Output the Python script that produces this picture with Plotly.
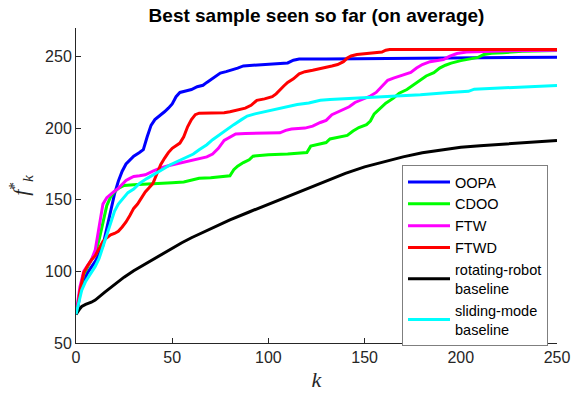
import plotly.graph_objects as go

# Best sample value f*_k found so far, averaged over runs, for each method
oopa_k = [0, 1, 2, 4, 6, 8, 10, 12, 14, 16, 18, 20, 22, 24, 26, 28, 30, 33, 35, 37, 39, 41,
          43, 46, 48, 50, 52, 54, 57, 60, 63, 66, 68, 70, 72, 75, 78, 81, 84, 87, 92, 96,
          100, 105, 110, 113, 116, 130, 150, 200, 250]
oopa = [70, 75, 84, 93, 99, 103, 107, 112, 118, 130, 143, 154, 163, 170, 175, 178, 180.5,
        183, 185, 194, 202, 206, 208, 211.5, 214, 217, 222, 225, 226, 227, 229, 230, 232,
        234, 236, 238.5, 239.5, 240.5, 242, 243.5, 244, 244.5, 245, 245.2, 245.6, 247.5,
        248.3, 248.4, 248.6, 249.2, 249.6]

cdoo_k = [0, 2, 4, 6, 8, 10, 12, 14, 16, 18, 20, 22, 25, 30, 40, 50, 56, 60, 64, 70, 80,
          82, 84, 87, 90, 92, 100, 110, 120, 122, 126, 130, 132, 138, 141, 144, 147, 151,
          153, 155, 158, 161, 165, 168, 172, 175, 179, 182, 186, 189, 192, 195, 200, 205,
          209, 212, 216, 222, 232, 250]
cdoo = [70, 86, 98, 103, 108, 113, 122, 135, 146, 152, 155.5, 158, 160, 160.5, 161.5, 162,
        162.5, 164, 165, 165.5, 166.8, 171, 173.5, 176, 178, 180.5, 181.5, 182, 183, 187.5,
        188.5, 190, 192.5, 194, 195, 198, 200.5, 202.5, 205, 210, 214, 217.5, 221, 224.5,
        227, 230, 234, 236.5, 238.8, 242, 244, 245.5, 247.2, 248.5, 249.5, 251.5, 252.3,
        252.8, 253.7, 254.2]

ftw_k = [0, 1, 2, 4, 6, 8, 10, 12, 14, 16, 18, 20, 22, 24, 26, 28, 30, 33, 36, 40, 44, 48,
         54, 60, 64, 68, 71, 74, 77, 80, 83, 88, 100, 106, 109, 112, 119, 123, 127, 130, 133,
         136, 139, 142, 145, 149, 153, 156, 159, 162, 165, 168, 171, 174, 177, 180, 184, 188,
         191, 194, 198, 203, 210, 220, 250]
ftw = [70, 78, 89, 100, 104, 108, 115, 132, 147, 151.5, 154, 156, 158, 161, 163.5, 165,
       166.3, 166.8, 167.5, 170, 172.2, 173.8, 175.6, 177.5, 179.1, 180, 182, 186, 191.5, 194,
       196, 196.3, 196.5, 196.8, 198.5, 199.5, 200.1, 201.5, 204, 205.5, 209.5, 211.5, 213,
       215, 218, 220.5, 222.5, 225, 229.5, 233.5, 235, 236.2, 237.5, 239, 242, 244.5, 246.5,
       247.3, 248, 250.2, 252.2, 253.2, 253.6, 254, 254.4]

ftwd_k = [0, 1, 2, 4, 6, 8, 10, 12, 14, 16, 18, 20, 22, 24, 26, 28, 30, 32, 34, 36, 38, 40,
          42, 44, 46, 48, 50, 52, 54, 56, 58, 60, 62, 64, 70, 77, 80, 84, 88, 91, 94, 98, 102,
          104, 106, 108, 110, 113, 116, 119, 123, 127, 130, 133, 136, 139, 141, 143, 146, 149,
          153, 156, 159, 161, 163, 250]
ftwd = [70, 76, 86, 99, 104, 108, 111, 116, 121, 123.5, 125.5, 126.5, 128, 131, 134.5, 139,
        144, 147, 151, 155.5, 158.5, 161.5, 168, 174.5, 179, 183, 186, 188, 189.6, 194, 201,
        206, 209.5, 210.5, 210.6, 210.8, 211.5, 213, 214, 216, 219.5, 220.5, 222, 224, 227,
        229.5, 232, 234.5, 238, 239.5, 240.5, 241.5, 242.5, 243.5, 244.5, 246.5, 249, 250.5,
        251.5, 252, 252.5, 252.8, 253.2, 254.5, 255, 255]

robot_k = [0, 1, 2, 3, 5, 8, 10, 15, 20, 25, 30, 35, 40, 45, 50, 55, 60, 70, 80, 90, 100,
           110, 120, 130, 140, 150, 160, 170, 180, 190, 200, 210, 220, 230, 240, 250]
robot = [70, 72.5, 74, 75.5, 77, 78.5, 80, 85.5, 91, 96, 100.5, 104.5, 108.5, 112.5, 116.5,
         120, 123.5, 130, 136, 141.5, 147, 152.5, 158, 163.5, 168.5, 173, 176.5, 180, 182.8,
         185, 186.7, 187.8, 188.8, 189.7, 190.6, 191.5]

sliding_k = [0, 1, 3, 5, 7, 10, 12, 14, 16, 18, 20, 22, 24, 27, 30, 33, 37, 42, 46, 49, 53,
             57, 61, 64, 68, 71, 75, 78, 82, 86, 89, 93, 99, 104, 109, 115, 121, 127, 132,
             140, 153, 165, 179, 194, 204, 207, 220, 235, 250]
sliding = [70, 75, 87, 93, 97, 103.5, 109, 117, 126, 134, 142, 147, 150, 155, 157.5, 161.5,
           165, 168.7, 172, 174.5, 177, 179.1, 182, 185, 188.5, 192, 196, 199, 202.5, 206,
           208.5, 210, 211.8, 213.5, 215.2, 216.5, 217.6, 219.5, 220, 220.6, 221.1, 222.2,
           223.4, 225, 225.8, 227.3, 228, 229, 229.8]

series = [
    ("OOPA", oopa_k, oopa, "#0000ff"),
    ("CDOO", cdoo_k, cdoo, "#00ff00"),
    ("FTW", ftw_k, ftw, "#ff00ff"),
    ("FTWD", ftwd_k, ftwd, "#ff0000"),
    ("rotating-robot<br>baseline", robot_k, robot, "#000000"),
    ("sliding-mode<br>baseline", sliding_k, sliding, "#00ffff"),
]

x_ticks = [0, 50, 100, 150, 200, 250]
y_ticks = [50, 100, 150, 200, 250]

fig = go.Figure()
for name, ks, vals, color in series:
    fig.add_trace(go.Scatter(x=ks, y=vals, mode="lines", name=name,
                             line=dict(color=color, width=3)))

axis_common = dict(
    showline=True, linecolor="#262626", linewidth=1, mirror=False,
    ticks="inside", ticklen=5, tickcolor="#262626", tickwidth=1,
    showgrid=False, zeroline=False, automargin=False,
    tickfont=dict(family="Liberation Sans", size=16, color="#262626"),
)

fig.update_layout(
    width=571, height=398,
    margin=dict(l=76, r=14, t=28, b=55),
    paper_bgcolor="white", plot_bgcolor="white",
    title=dict(text="<b>Best sample seen so far (on average)</b>",
               x=0.5, xref="paper", y=1 - 15 / 398, yref="container",
               yanchor="middle", xanchor="center",
               font=dict(family="Liberation Sans", size=19, color="black")),
    xaxis=dict(range=[0, 250], tickvals=x_ticks,
               title=dict(text="<i>k</i>", standoff=6,
                          font=dict(family="Liberation Serif", size=22, color="#262626")),
               **axis_common),
    yaxis=dict(range=[50, 270], tickvals=y_ticks,
               title=dict(text="<i>f</i><sup>*</sup><sub><i>k</i></sub>", standoff=10,
                          font=dict(family="Liberation Serif", size=22, color="#262626")),
               **axis_common),
    legend=dict(x=(402 - 76) / 481, y=(343 - 165) / 315, xanchor="left", yanchor="top",
                bgcolor="white", bordercolor="#7f7f7f", borderwidth=1,
                font=dict(family="Liberation Sans", size=14.5, color="black"),
                itemwidth=42, tracegroupgap=0),
    showlegend=True,
)

fig.write_html("out.html")
